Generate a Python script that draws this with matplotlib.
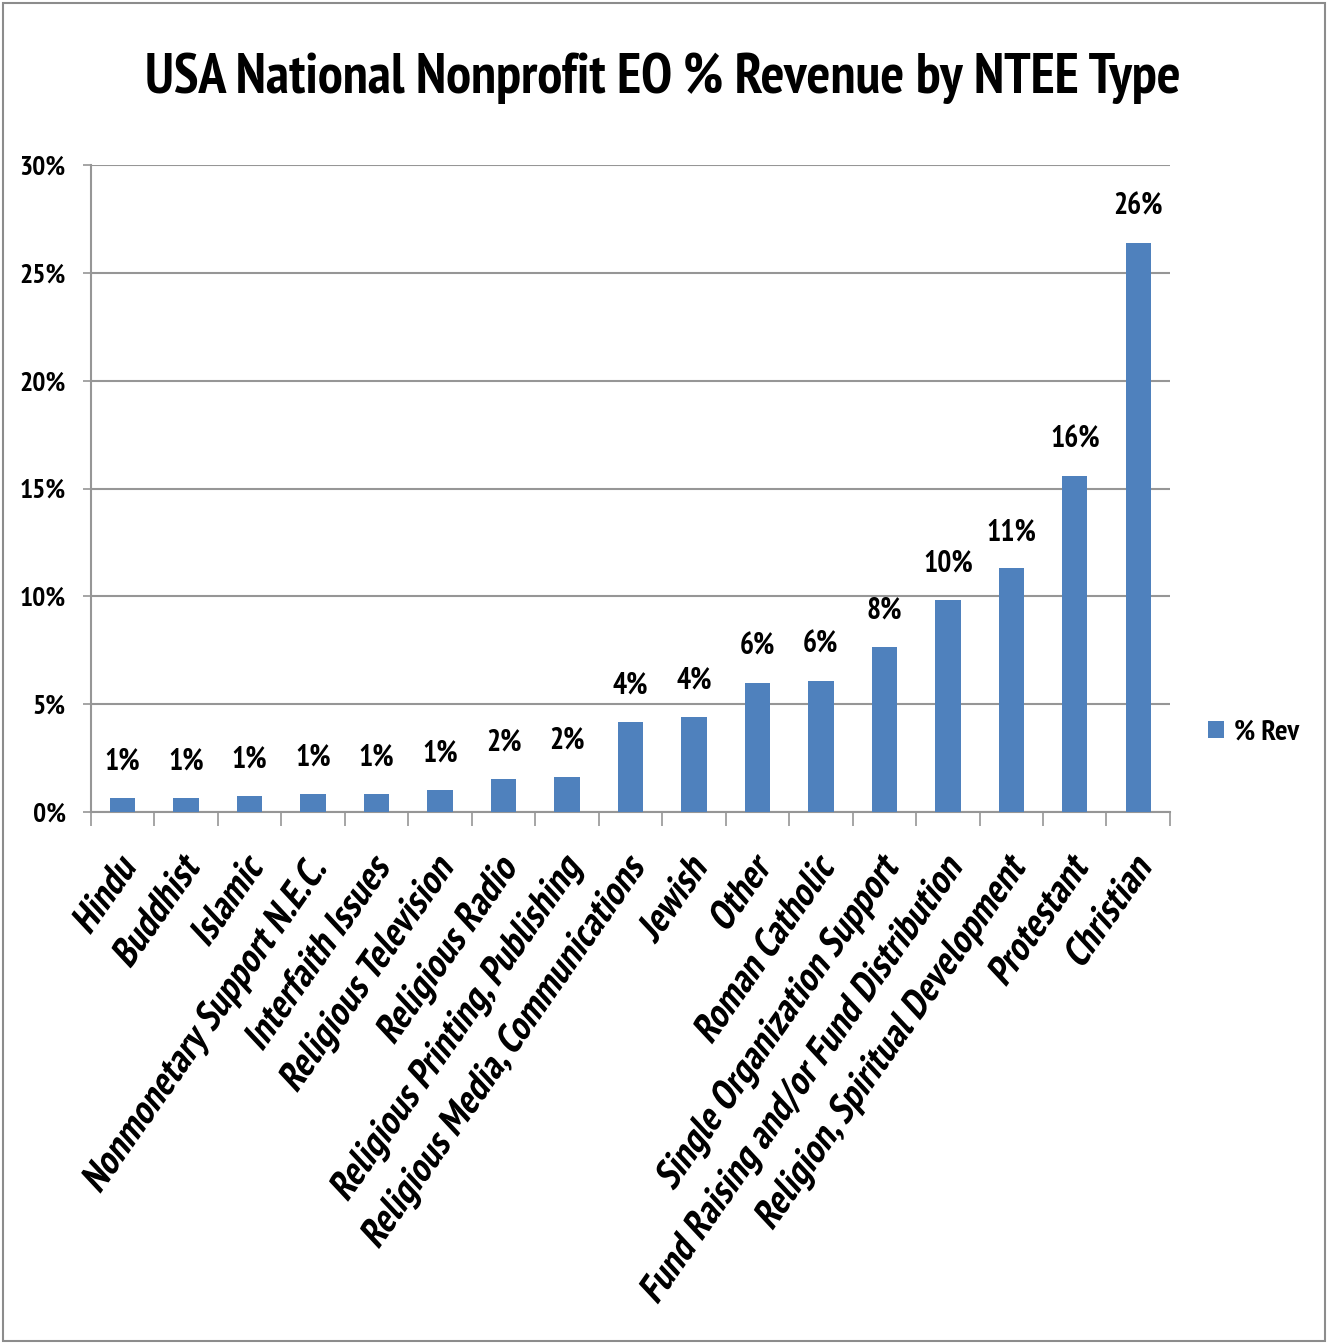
import matplotlib
matplotlib.use("Agg")
import matplotlib.pyplot as plt
from matplotlib import font_manager
from matplotlib.font_manager import FontProperties
from matplotlib.patches import Rectangle
from matplotlib.patheffects import AbstractPathEffect
from matplotlib.transforms import Affine2D, ScaledTranslation

categories = ["Hindu", "Buddhist", "Islamic", "Nonmonetary Support N.E.C.",
              "Interfaith Issues", "Religious Television", "Religious Radio",
              "Religious Printing, Publishing", "Religious Media, Communications",
              "Jewish", "Other", "Roman Catholic", "Single Organization Support",
              "Fund Raising and/or Fund Distribution", "Religion, Spiritual Development",
              "Protestant", "Christian"]
values = [0.65, 0.65, 0.74, 0.83, 0.83, 1.02, 1.53, 1.62, 4.17, 4.40,
          5.98, 6.07, 7.65, 9.83, 11.30, 15.60, 26.40]
yticks = [0, 5, 10, 15, 20, 25, 30]
series_name = "% Rev"
title = "USA National Nonprofit EO % Revenue by NTEE Type"

GRAY = "#969696"
BLUE = "#4F81BD"


def _wnum(w):
    if isinstance(w, (int, float)):
        return w
    return {"bold": 700, "heavy": 800, "black": 900, "semibold": 600,
            "demibold": 600, "extra bold": 800}.get(str(w).lower(), 400)


def find_font():
    best = None
    for f in font_manager.fontManager.ttflist:
        fn = f.fname.lower()
        cond = (str(f.stretch) not in ("normal", "400", "500")) or "condensed" in fn or "narrow" in fn
        if not cond or _wnum(f.weight) < 600:
            continue
        if "semi" in fn or "extra" in fn or "ultra" in fn:
            continue
        if f.style in ("italic", "oblique") or "italic" in fn or "oblique" in fn:
            continue
        rank = 0 if "narrow" in fn else (1 if "roboto" in fn else 2)
        if best is None or rank < best[0]:
            best = (rank, f.fname)
    if best:
        return FontProperties(fname=best[1])
    return FontProperties(family=["Lato", "DejaVu Sans"], weight="bold")


class Slant(AbstractPathEffect):
    """Draw text glyphs with a slant (synthetic italic)."""
    def __init__(self, deg=12):
        super().__init__()
        self.deg = deg

    def draw_path(self, renderer, gc, tpath, affine, rgbFace=None):
        renderer.draw_path(gc, tpath, Affine2D().skew_deg(self.deg, 0) + affine, rgbFace)


fp_b = find_font()

fig = plt.figure(figsize=(13.28, 13.44), dpi=100)
renderer = fig.canvas.get_renderer()


def size_for(text, target_px, fp, ref=20.0):
    p = fp.copy()
    p.set_size(ref)
    t = fig.text(0, 0, text, fontproperties=p)
    w = t.get_window_extent(renderer).width
    t.remove()
    return ref * target_px / w


def fprop(fp, size):
    p = fp.copy()
    p.set_size(size)
    return p


s_title = size_for(title, 1040, fp_b)
s_tick = size_for("30%", 43, fp_b) * 1.08
s_lab = size_for("26%", 46, fp_b) * 1.08
s_leg = size_for(series_name, 65, fp_b)
s_x = size_for("Fund Raising and/or Fund Distribution", 535, fp_b)

fig.patches.append(Rectangle((0.002, 0.002), 0.996, 0.996, transform=fig.transFigure,
                             fill=False, edgecolor="#8c8c8c", linewidth=1.5))
ax = fig.add_axes([0.0685, 0.396, 0.8125, 0.481])

x = list(range(len(categories)))
ax.bar(x, values, width=0.4, color=BLUE, label=series_name, zorder=3)
for xi, v in zip(x, values):
    ax.text(xi, v + 1.3, f"{v:.0f}%", ha="center", va="baseline",
            fontproperties=fprop(fp_b, s_lab))

ax.set_xlim(-0.5, len(categories) - 0.5)
ax.set_ylim(0, 30)
ax.set_yticks(yticks)
ax.set_yticklabels([f"{t}%" for t in yticks], fontproperties=fprop(fp_b, s_tick))
ax.yaxis.grid(True, color=GRAY, linewidth=1.5, zorder=0)
ax.set_axisbelow(True)
ax.tick_params(axis="y", length=6, width=1.2, color=GRAY, pad=12)

ax.set_xticks(x)
ax.set_xticklabels(categories, rotation=55, ha="right", va="top",
                   rotation_mode="anchor", fontproperties=fprop(fp_b, s_x))
ax.tick_params(axis="x", length=0, pad=30)
shift = ScaledTranslation(-8 / 100, 0, fig.dpi_scale_trans)
for lab in ax.get_xticklabels():
    lab.set_transform(lab.get_transform() + shift)
    lab.set_path_effects([Slant(12)])
ax.set_xticks([i - 0.5 for i in range(len(categories) + 1)], minor=True)
ax.tick_params(axis="x", which="minor", length=10, width=1.2, color=GRAY)

for s in ["top", "right"]:
    ax.spines[s].set_visible(False)
for s in ["left", "bottom"]:
    ax.spines[s].set_color(GRAY)
    ax.spines[s].set_linewidth(1.5)

fig.text(0.4992, 0.942, title, ha="center", va="center",
         fontproperties=fprop(fp_b, s_title))

ax.legend(loc="center left", bbox_to_anchor=(1.035, 0.122), frameon=False,
          handlelength=0.55, handleheight=0.55, handletextpad=0.35,
          borderpad=0, borderaxespad=0, prop=fprop(fp_b, s_leg))

fig.savefig("out.png", dpi=100)
